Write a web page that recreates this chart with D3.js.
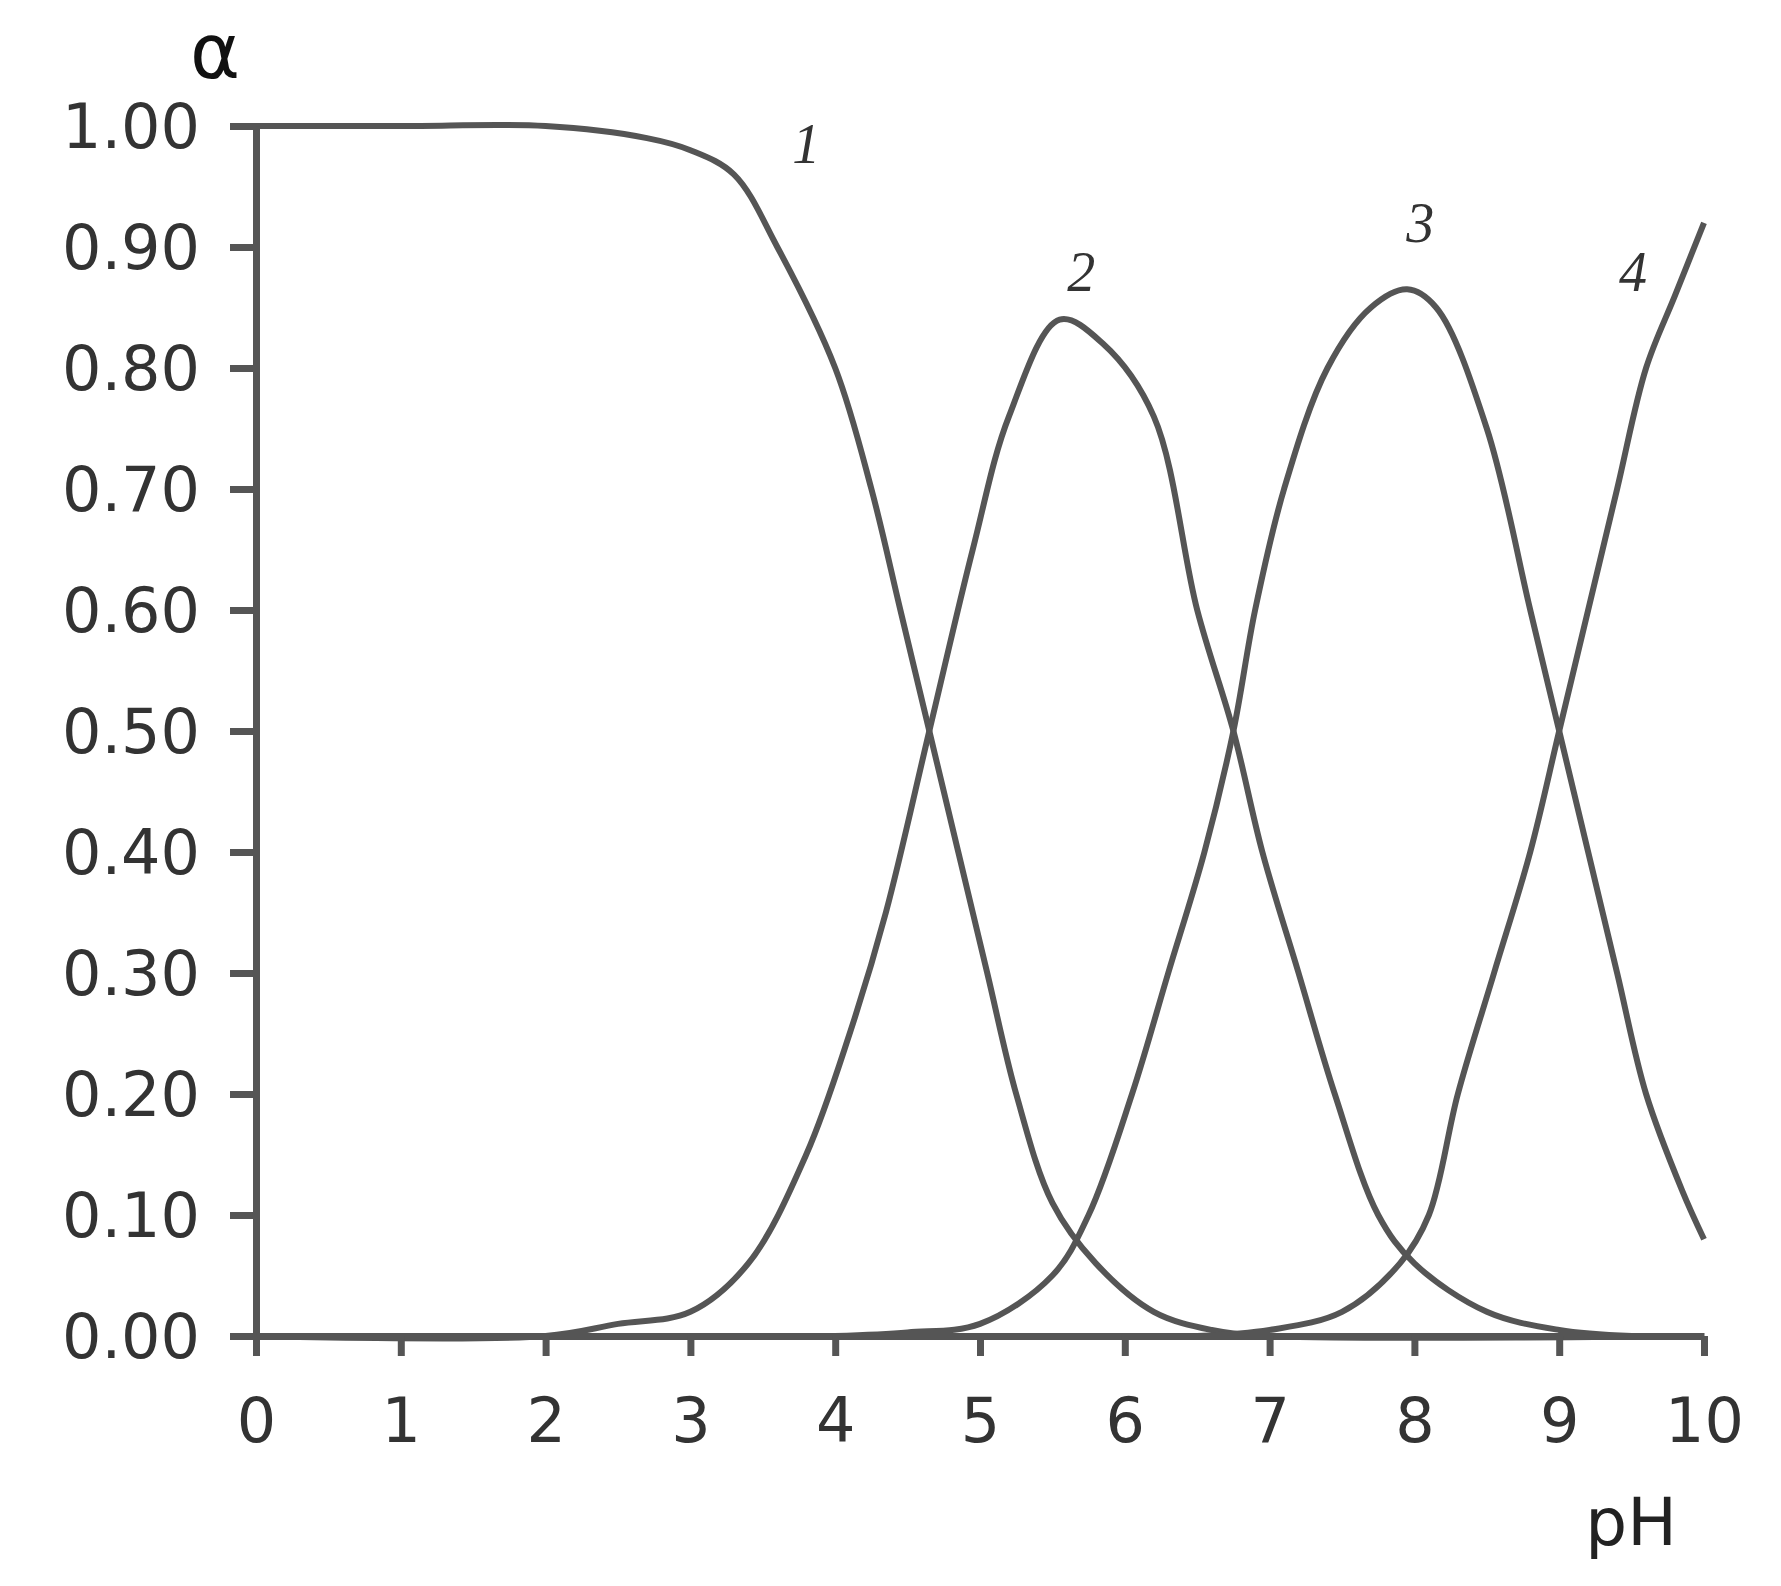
<!DOCTYPE html><html><head><meta charset="utf-8"><script src="https://cdn.jsdelivr.net/npm/d3@7"></script>
<style>body{margin:0;background:#fff}</style></head><body><svg id="c" width="1781" height="1586"></svg>
<script>
const xTicks=[0,1,2,3,4,5,6,7,8,9,10];
const yTicks=[0,0.1,0.2,0.3,0.4,0.5,0.6,0.7,0.8,0.9,1.0];
const curve1=[[0,1],[1,1],[2,1],[2.7,0.99],[3,0.98],[3.3,0.96],[3.6,0.9],[4,0.8],[4.25,0.7],[4.45,0.6],[4.65,0.5],[4.85,0.4],[5.05,0.3],[5.25,0.2],[5.5,0.11],[5.8,0.06],[6.2,0.02],[6.6,0.005],[7,0],[10,0]];
const curve2=[[0,0],[2,0],[2.5,0.01],[3,0.02],[3.4,0.06],[3.8,0.15],[4.1,0.25],[4.35,0.35],[4.65,0.5],[4.95,0.65],[5.2,0.76],[5.55,0.84],[5.85,0.82],[6.2,0.76],[6.5,0.6],[6.75,0.5],[6.95,0.4],[7.2,0.3],[7.45,0.2],[7.75,0.1],[8,0.06],[8.5,0.02],[9,0.005],[9.5,0],[10,0]];
const curve3=[[4,0],[4.5,0.003],[5,0.01],[5.5,0.05],[5.75,0.1],[6.05,0.2],[6.3,0.3],[6.55,0.4],[6.75,0.5],[6.9,0.6],[7.1,0.7],[7.4,0.8],[7.7,0.85],[7.95,0.865],[8.15,0.85],[8.5,0.75],[8.8,0.6],[9,0.5],[9.2,0.4],[9.4,0.3],[9.6,0.2],[9.85,0.12],[10,0.08]];
const curve4=[[6.5,0],[7,0.005],[7.5,0.02],[7.9,0.06],[8.1,0.1],[8.3,0.2],[8.55,0.3],[8.8,0.4],[9,0.5],[9.2,0.6],[9.4,0.7],[9.6,0.8],[9.8,0.86],[10,0.92]];
const curveLabels=["1","2","3","4"];
const labelPos=[[3.8,0.986],[5.7,0.88],[8.04,0.92],[9.51,0.88]];
const series=[curve1,curve2,curve3,curve4];

const svg=d3.select("#c");
const x=d3.scaleLinear().domain([0,10]).range([256,1704]);
const y=d3.scaleLinear().domain([0,1]).range([1336,126]);
const col="#555";
const line=d3.line().x(d=>x(d[0])).y(d=>y(d[1])).curve(d3.curveCatmullRom.alpha(0.5));
series.forEach(s=>svg.append("path").attr("d",line(s)).attr("fill","none").attr("stroke",col).attr("stroke-width",6));
const ya=svg.append("g").attr("transform","translate(256,0)").call(d3.axisLeft(y).tickValues(yTicks).tickFormat(d3.format(".2f")).tickSize(26).tickSizeOuter(0));
const xa=svg.append("g").attr("transform","translate(0,1336)").call(d3.axisBottom(x).tickValues(xTicks).tickFormat(d3.format("d")).tickSize(20).tickSizeOuter(0));
[ya,xa].forEach(a=>{a.select(".domain").attr("stroke",col).attr("stroke-width",7);a.selectAll("line").attr("stroke",col).attr("stroke-width",7);a.selectAll("text").attr("fill","#333").style("font-family","DejaVu Sans").style("font-size","62px");});
ya.selectAll("text").attr("x",-56).attr("dy","0.35em");
xa.selectAll("text").attr("y",62).attr("dy","0.71em");
svg.append("text").attr("x",215).attr("y",78).attr("text-anchor","middle").style("font-family","DejaVu Sans").style("font-size","76px").attr("fill","#111").text("α");
svg.append("text").attr("x",1631).attr("y",1545).attr("text-anchor","middle").style("font-family","DejaVu Sans").style("font-size","66px").attr("fill","#222").text("pH");
curveLabels.forEach((t,i)=>svg.append("text").attr("x",x(labelPos[i][0])).attr("y",y(labelPos[i][1])).attr("dy","0.35em").attr("text-anchor","middle").style("font-family","Liberation Serif").style("font-style","italic").style("font-size","56px").attr("fill","#333").text(t));
</script></body></html>
